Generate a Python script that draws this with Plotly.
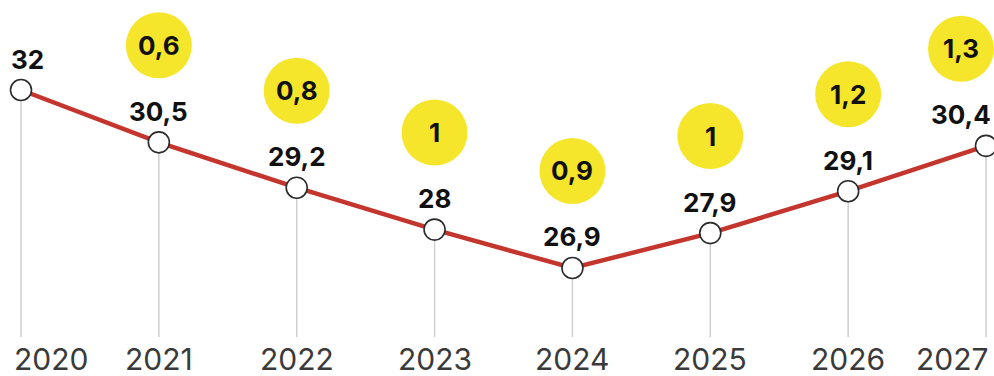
import plotly.graph_objects as go

years = [2020, 2021, 2022, 2023, 2024, 2025, 2026, 2027]
values = [32, 30.5, 29.2, 28, 26.9, 27.9, 29.1, 30.4]
bubble_years = [2021, 2022, 2023, 2024, 2025, 2026, 2027]
bubble_values = [0.6, 0.8, 1, 0.9, 1, 1.2, 1.3]

def fmt(v):
    s = ("%g" % v)
    return s.replace(".", ",")

# horizontal pixel nudges for edge items
def edge_shift(y):
    if y == years[0]:
        return 6
    if y == years[-1]:
        return -25
    return 0

LINE_RED = "#c4352d"
YELLOW = "#f6e62b"
FONT_B = "Inter"
Y_BASE = 24.92

fig = go.Figure()

shapes = []
for x, v in zip(years, values):
    shapes.append(dict(type="line", xref="x", yref="y", x0=x, x1=x, y0=v, y1=Y_BASE,
                       line=dict(color="#cfcfcf", width=1.5), layer="below"))

R = 33
OFF = 97
for x, b in zip(bubble_years, bubble_values):
    v = values[years.index(x)]
    dx = edge_shift(x)
    shapes.append(dict(type="circle", xref="x", yref="y", xsizemode="pixel", ysizemode="pixel",
                       xanchor=x, yanchor=v, x0=dx - R, x1=dx + R, y0=OFF - R, y1=OFF + R,
                       fillcolor=YELLOW, line=dict(width=0), layer="below"))

fig.add_trace(go.Scatter(
    x=years, y=values, mode="lines+markers",
    line=dict(color=LINE_RED, width=4.5),
    marker=dict(size=21, color="white", line=dict(color="#2b2b2b", width=1.6)),
    hoverinfo="skip", showlegend=False))

annotations = []
for x, v in zip(years, values):
    annotations.append(dict(x=x, y=v, xref="x", yref="y", text=fmt(v), showarrow=False,
                            yshift=31, xshift=edge_shift(x),
                            font=dict(family=FONT_B, size=26, color="#111111", weight=700)))
for x, b in zip(bubble_years, bubble_values):
    v = values[years.index(x)]
    annotations.append(dict(x=x, y=v, xref="x", yref="y", text=fmt(b), showarrow=False,
                            yshift=OFF, xshift=edge_shift(x),
                            font=dict(family=FONT_B, size=26, color="#111111", weight=700)))
for x in years:
    anchor = "center"
    xs = 0
    if x == years[0]:
        anchor, xs = "left", -9
    elif x == years[-1]:
        anchor, xs = "right", 5
    annotations.append(dict(x=x, y=0.045, xref="x", yref="paper", text=str(x), showarrow=False,
                            xanchor=anchor, yanchor="middle", xshift=xs,
                            font=dict(family=FONT_B, size=30, color="#3a3a3a")))

fig.update_layout(
    width=994, height=376,
    margin=dict(l=0, r=0, t=0, b=0),
    paper_bgcolor="white", plot_bgcolor="white",
    xaxis=dict(range=[2019.8477, 2027.058], visible=False, fixedrange=True),
    yaxis=dict(range=[23.805, 34.579], visible=False, fixedrange=True),
    shapes=shapes, annotations=annotations,
    showlegend=False,
)

fig.write_html("out.html", config={"displayModeBar": False})
